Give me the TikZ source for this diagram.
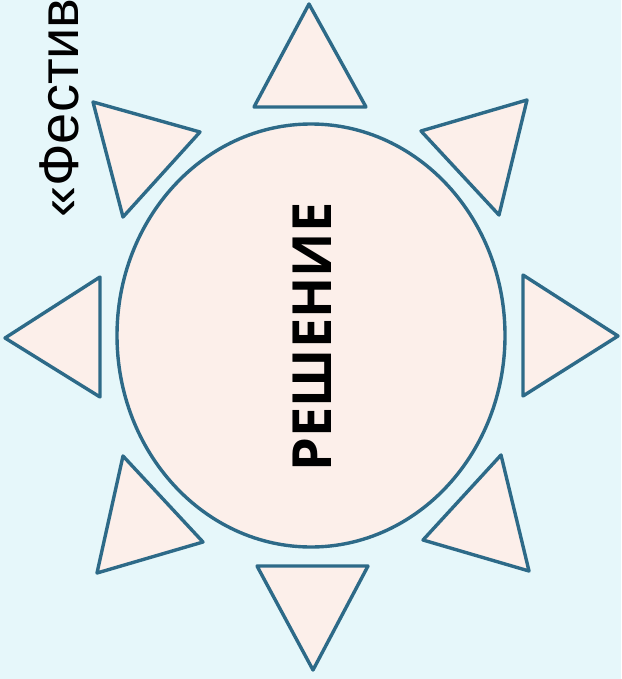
\documentclass[tikz,border=0pt]{standalone}
\usepackage{fontspec}
\setmainfont{Liberation Sans}
\newfontfamily\wordfont{Open Sans}
\usetikzlibrary{shapes.geometric}
\definecolor{sky}{HTML}{E6F7FA}
\definecolor{petal}{HTML}{FCEFEA}
\definecolor{rim}{HTML}{2D6A88}

\begin{document}
\begin{tikzpicture}[
  x=1pt, y=-1pt,
  ray/.style={draw=rim, fill=petal, line width=3.4pt, line join=round},
  sun/.style={ellipse, draw=rim, fill=petal, line width=3.4pt, inner sep=0pt},
  word/.style={rotate=90, inner sep=0pt}]

  % page
  \useasboundingbox (0,0) rectangle (621,679);
  \clip (0,0) rectangle (621,679);
  \fill[sky] (0,0) rectangle (621,679);

  % side caption, cut by the page edge
  \node[word, anchor=base west, font=\fontsize{56}{56}\selectfont]
    (caption) at (78,218) {«Фестив};

  % disc
  \node[sun, minimum width=388pt, minimum height=423pt] (disc) at (311,335.5) {};
  \node[word, font=\wordfont\bfseries\fontsize{54}{54}\selectfont]
    (answer) at (312,337) {РЕШЕНИЕ};

  % rays, clockwise from the top
  \draw[ray] (254,107) -- (309,4) -- (366,107) -- cycle;
  \draw[ray] (421,131) -- (527,100) -- (499,215) -- cycle;
  \draw[ray] (523,275) -- (618,336) -- (523,396) -- cycle;
  \draw[ray] (501,455) -- (529,571) -- (423,540) -- cycle;
  \draw[ray] (257,566) -- (368,566) -- (313,670) -- cycle;
  \draw[ray] (123,456) -- (203,542) -- (97,573) -- cycle;
  \draw[ray] (100,277) -- (100,397) -- (5,338) -- cycle;
  \draw[ray] (93,102) -- (200,132) -- (123,217) -- cycle;
\end{tikzpicture}
\end{document}
